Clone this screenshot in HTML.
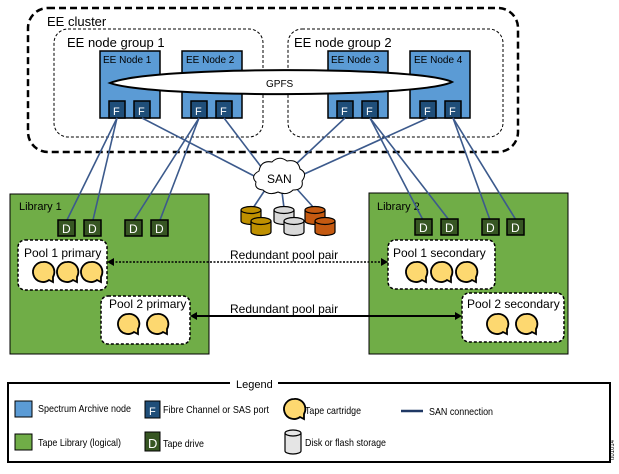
<!DOCTYPE html>
<html><head><meta charset="utf-8"><style>
body{margin:0;background:#fff}
svg text{font-family:"Liberation Sans",sans-serif}
</style></head><body>
<svg width="619" height="469" viewBox="0 0 619 469" xmlns="http://www.w3.org/2000/svg">
<defs>
<g id="tape"><path d="M0,-10 a10,10 0 1,0 6,18 l4,2 l0,-5 a10,10 0 0,0 -10,-15z" fill="#fdd870" stroke="#000" stroke-width="1.8"/></g>
</defs>
<!-- cluster -->
<rect x="28" y="8" width="490" height="144" rx="20" fill="none" stroke="#000" stroke-width="2.5" stroke-dasharray="7,4"/>
<text x="47" y="26" font-size="13">EE cluster</text>
<rect x="54" y="29" width="209" height="108" rx="14" fill="none" stroke="#000" stroke-width="1" stroke-dasharray="3,2"/>
<text x="67" y="47" font-size="13">EE node group 1</text>
<rect x="288" y="29" width="215" height="108" rx="14" fill="none" stroke="#000" stroke-width="1" stroke-dasharray="3,2"/>
<text x="294" y="47" font-size="13">EE node group 2</text>
<!-- nodes -->
<g fill="#5b9bd5" stroke="#000" stroke-width="1.5">
<rect x="100" y="51" width="60" height="67"/><rect x="182" y="51" width="60" height="67"/>
<rect x="328" y="51" width="60" height="67"/><rect x="410" y="51" width="60" height="67"/>
</g>
<g font-size="10" fill="#000"><text x="103" y="63">EE Node 1</text><text x="186" y="63">EE Node 2</text><text x="331" y="63">EE Node 3</text><text x="414" y="63">EE Node 4</text></g>
<path d="M110,83 C150,66 420,66 452,82 C420,98 150,98 110,83Z" fill="#fff" stroke="#000" stroke-width="2"/>
<text x="266" y="87" font-size="10">GPFS</text>
<g fill="#1f4e79" stroke="#000" stroke-width="1.5">
<rect x="109" y="101" width="16" height="17"/><rect x="134" y="101" width="16" height="17"/>
<rect x="191" y="101" width="16" height="17"/><rect x="216" y="101" width="16" height="17"/>
<rect x="337" y="101" width="16" height="17"/><rect x="362" y="101" width="16" height="17"/>
<rect x="420" y="101" width="16" height="17"/><rect x="445" y="101" width="16" height="17"/>
</g>
<g fill="#fff" font-size="11"><text x="113" y="115">F</text><text x="138" y="115">F</text><text x="195" y="115">F</text><text x="220" y="115">F</text><text x="341" y="115">F</text><text x="366" y="115">F</text><text x="424" y="115">F</text><text x="449" y="115">F</text></g>
<!-- libraries -->
<rect x="10" y="194" width="199" height="160" fill="#70ad47" stroke="#000"/>
<text x="19" y="210" font-size="11">Library 1</text>
<rect x="369" y="193" width="199" height="161" fill="#70ad47" stroke="#000"/>
<text x="377" y="210" font-size="11">Library 2</text>
<!-- lines -->
<g stroke="#3c5a8c" stroke-width="1.6" fill="none">
<line x1="117" y1="118" x2="67" y2="220"/><line x1="117" y1="118" x2="93" y2="220"/>
<line x1="199" y1="118" x2="134" y2="220"/><line x1="199" y1="118" x2="160" y2="220"/>
<line x1="142" y1="118" x2="258" y2="178"/><line x1="224" y1="118" x2="262" y2="168"/>
<line x1="345" y1="118" x2="295" y2="165"/><line x1="428" y1="118" x2="302" y2="175"/>
<line x1="370" y1="118" x2="423" y2="220"/><line x1="370" y1="118" x2="449" y2="220"/>
<line x1="453" y1="118" x2="490" y2="220"/><line x1="453" y1="118" x2="516" y2="220"/>
<line x1="265" y1="190" x2="253" y2="208"/><line x1="282" y1="192" x2="284" y2="208"/><line x1="296" y1="188" x2="314" y2="208"/>
</g>
<path d="M259,171 q2,-11 13,-9 q7,-7 15,-1 q11,-2 13,8 q8,4 2,12 q2,9 -9,9 q-6,6 -15,2 q-9,4 -15,-2 q-9,-1 -7,-8 q-6,-6 3,-11z" fill="#fff" stroke="#000" stroke-width="1"/>
<text x="267" y="183" font-size="12">SAN</text>
<!-- disks -->
<g stroke="#000" stroke-width="1.2">
<g fill="#bf9000"><path d="M241,210 v11 a10,3.5 0 0,0 20,0 v-11"/><ellipse cx="251" cy="210" rx="10" ry="3.5"/><path d="M251,221 v11 a10,3.5 0 0,0 20,0 v-11"/><ellipse cx="261" cy="221" rx="10" ry="3.5"/></g>
<g fill="#d9d9d9"><path d="M274,210 v11 a10,3.5 0 0,0 20,0 v-11"/><ellipse cx="284" cy="210" rx="10" ry="3.5"/><path d="M284,221 v11 a10,3.5 0 0,0 20,0 v-11"/><ellipse cx="294" cy="221" rx="10" ry="3.5"/></g>
<g fill="#c55a11"><path d="M305,210 v11 a10,3.5 0 0,0 20,0 v-11"/><ellipse cx="315" cy="210" rx="10" ry="3.5"/><path d="M315,221 v11 a10,3.5 0 0,0 20,0 v-11"/><ellipse cx="325" cy="221" rx="10" ry="3.5"/></g>
</g>
<!-- drives -->
<g fill="#375623" stroke="#000" stroke-width="1.5">
<rect x="58" y="220" width="17" height="16"/><rect x="84" y="220" width="17" height="16"/><rect x="125" y="220" width="17" height="16"/><rect x="151" y="220" width="17" height="16"/>
<rect x="415" y="219" width="17" height="16"/><rect x="441" y="219" width="17" height="16"/><rect x="482" y="219" width="17" height="16"/><rect x="507" y="219" width="17" height="16"/>
</g>
<g fill="#fff" font-size="12"><text x="62" y="233">D</text><text x="88" y="233">D</text><text x="129" y="233">D</text><text x="155" y="233">D</text><text x="419" y="232">D</text><text x="445" y="232">D</text><text x="486" y="232">D</text><text x="511" y="232">D</text></g>
<!-- pools -->
<g fill="#fff" stroke="#000" stroke-width="1.5" stroke-dasharray="3,2">
<rect x="18" y="240" width="89" height="50" rx="7"/><rect x="101" y="296" width="89" height="48" rx="7"/>
<rect x="388" y="240" width="107" height="49" rx="7"/><rect x="462" y="293" width="102" height="49" rx="7"/>
</g>
<g font-size="12"><text x="24" y="257">Pool 1 primary</text><text x="109" y="308">Pool 2 primary</text><text x="393" y="257">Pool 1 secondary</text><text x="467" y="308">Pool 2 secondary</text></g>
<use href="#tape" x="43" y="272"/><use href="#tape" x="67" y="272"/><use href="#tape" x="91" y="272"/>
<use href="#tape" x="128" y="324"/><use href="#tape" x="157" y="324"/>
<use href="#tape" x="416" y="272"/><use href="#tape" x="441" y="272"/><use href="#tape" x="466" y="272"/>
<use href="#tape" x="497" y="324"/><use href="#tape" x="526" y="324"/>
<!-- arrows -->
<line x1="112" y1="262" x2="382" y2="262" stroke="#000" stroke-width="1.5" stroke-dasharray="2,1.5"/>
<path d="M107,262 l7,-4 v8z M388,262 l-7,-4 v8z" fill="#000"/>
<text x="230" y="259" font-size="12">Redundant pool pair</text>
<line x1="195" y1="316" x2="456" y2="316" stroke="#000" stroke-width="2"/>
<path d="M190,316 l7,-4 v8z M462,316 l-7,-4 v8z" fill="#000"/>
<text x="230" y="313" font-size="12">Redundant pool pair</text>
<!-- legend -->
<rect x="8" y="383" width="602" height="79" fill="none" stroke="#000" stroke-width="2"/>
<rect x="230" y="376" width="48" height="14" fill="#fff"/>
<text x="236" y="388" font-size="11">Legend</text>
<rect x="15" y="401" width="17" height="16" fill="#5b9bd5" stroke="#000"/>
<text x="38" y="412" font-size="10.5" textLength="93" lengthAdjust="spacingAndGlyphs">Spectrum Archive node</text>
<rect x="15" y="434" width="17" height="16" fill="#70ad47" stroke="#000"/>
<text x="38" y="446" font-size="10.5" textLength="83" lengthAdjust="spacingAndGlyphs">Tape Library (logical)</text>
<rect x="145" y="401" width="15" height="17" fill="#1f4e79" stroke="#000"/>
<text x="149" y="415" font-size="11" fill="#fff">F</text>
<text x="163" y="413" font-size="10.5" textLength="106" lengthAdjust="spacingAndGlyphs">Fibre Channel or SAS port</text>
<rect x="145" y="432" width="15" height="19" fill="#375623" stroke="#000"/>
<text x="148" y="448" font-size="13" fill="#fff">D</text>
<text x="163" y="447" font-size="10.5" textLength="41" lengthAdjust="spacingAndGlyphs">Tape drive</text>
<use href="#tape" x="294" y="409"/>
<text x="305" y="414" font-size="10.5" textLength="56" lengthAdjust="spacingAndGlyphs">Tape cartridge</text>
<g stroke="#000" stroke-width="1.2" fill="#e5e5e5"><path d="M285,433 v18 a8,3 0 0,0 16,0 v-18"/><ellipse cx="293" cy="433" rx="8" ry="3"/></g>
<text x="305" y="446" font-size="10.5" textLength="81" lengthAdjust="spacingAndGlyphs">Disk or flash storage</text>
<line x1="401" y1="411" x2="423" y2="411" stroke="#1f3864" stroke-width="2.5"/>
<text x="429" y="415" font-size="10.5" textLength="64" lengthAdjust="spacingAndGlyphs">SAN connection</text>
<text x="614" y="460" font-size="6" transform="rotate(-90 614 460)">tt01014</text>
</svg>
</body></html>
